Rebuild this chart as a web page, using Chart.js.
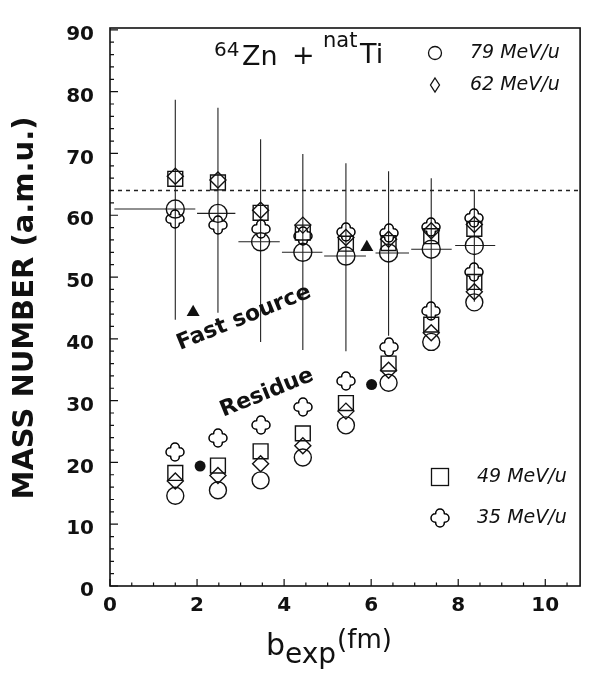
<!DOCTYPE html>
<html>
<head>
<meta charset="utf-8">
<script src="https://cdn.jsdelivr.net/npm/chart.js@4.4.1/dist/chart.umd.min.js"></script>
<style>
  html, body { margin: 0; padding: 0; background: #fff; }
</style>
</head>
<body>
<canvas id="massChart" width="592" height="674"></canvas>
<script>
// impact parameter bins (fm)
const bExp = [1.5, 2.48, 3.46, 4.43, 5.42, 6.4, 7.38, 8.37];
const binLo = [0.1, 2.0, 2.95, 3.95, 4.92, 6.1, 6.92, 7.93];
const binHi = [1.96, 2.88, 3.9, 4.88, 5.88, 6.87, 7.85, 8.85];

// fast source masses
const fast79 = [61.0, 60.3, 55.7, 54.0, 53.4, 53.9, 54.5, 55.1];
const fast79Lo = [43.1, 44.2, 39.5, 38.2, 38.0, 40.5, 43.0, 46.0];
const fast79Hi = [78.7, 77.4, 72.3, 69.9, 68.4, 67.1, 66.0, 64.1];
const fast62 = [66.3, 65.7, 60.8, 58.4, 56.4, 56.1, 57.5, 58.5];
const fast49 = [65.9, 65.3, 60.4, 57.2, 55.4, 55.5, 56.6, 57.8];
const fast35 = [59.4, 58.4, 57.7, 56.6, 57.3, 57.1, 58.1, 59.5];

// residue masses
const res79 = [14.6, 15.5, 17.1, 20.8, 26.0, 32.9, 39.5, 45.9];
const res62 = [17.0, 17.9, 19.8, 22.7, 28.3, 34.9, 41.0, 47.6];
const res49 = [18.3, 19.5, 21.8, 24.7, 29.6, 36.0, 42.3, 49.2];
const res35 = [21.7, 23.9, 26.1, 29.0, 33.1, 38.6, 44.5, 50.8];

// filled symbols
const triB = [1.91, 5.9];
const triA = [44.3, 54.8];
const dotB = [2.07, 6.01];
const dotA = [19.4, 32.6];

const projectileA = 64;
const xTicks = [0, 2, 4, 6, 8, 10];
const yTicks = [0, 10, 20, 30, 40, 50, 60, 70, 80, 90];

const ink = '#111';
const font = 'DejaVu Sans';

function makeCross(size) {
  const c = document.createElement('canvas');
  c.width = c.height = size + 4;
  const g = c.getContext('2d');
  const m = c.width / 2, a = size / 2, w = size * 0.24;
  g.strokeStyle = '#000';
  g.lineWidth = 1.5;
  g.lineJoin = 'round';
  g.beginPath();
  g.moveTo(m - w, m - w);
  g.lineTo(m - w, m - a + w);
  g.arc(m, m - a + w, w, Math.PI, 0);
  g.lineTo(m + w, m - w);
  g.lineTo(m + a - w, m - w);
  g.arc(m + a - w, m, w, -Math.PI / 2, Math.PI / 2);
  g.lineTo(m + w, m + w);
  g.lineTo(m + w, m + a - w);
  g.arc(m, m + a - w, w, 0, Math.PI);
  g.lineTo(m - w, m + w);
  g.lineTo(m - a + w, m + w);
  g.arc(m - a + w, m, w, Math.PI / 2, Math.PI * 1.5);
  g.closePath();
  g.stroke();
  return c;
}
const crossImg = makeCross(18);

const pts = (xs, ys) => xs.map((v, i) => ({ x: v, y: ys[i] }));

function marker(data, style, radius) {
  return {
    type: 'scatter',
    data: data,
    pointStyle: style,
    pointRadius: radius,
    pointBorderWidth: 1.4,
    pointBorderColor: ink,
    pointBackgroundColor: 'rgba(0,0,0,0)',
  };
}

function filled(data, style, radius) {
  return {
    type: 'scatter',
    data: data,
    pointStyle: style,
    pointRadius: radius,
    pointBorderWidth: 0,
    pointBackgroundColor: ink,
  };
}

const extras = {
  id: 'extras',
  beforeDatasetsDraw(chart) {
    const { ctx, scales: { x, y } } = chart;
    ctx.save();
    ctx.strokeStyle = '#222';
    ctx.lineWidth = 1.1;
    bExp.forEach((b, i) => {
      const px = x.getPixelForValue(b);
      const py = y.getPixelForValue(fast79[i]);
      ctx.beginPath();
      ctx.moveTo(px, y.getPixelForValue(fast79Lo[i]));
      ctx.lineTo(px, y.getPixelForValue(fast79Hi[i]));
      ctx.moveTo(x.getPixelForValue(binLo[i]), py);
      ctx.lineTo(x.getPixelForValue(binHi[i]), py);
      ctx.stroke();
    });
    ctx.restore();
    // keep the cross images crisp
    ctx.imageSmoothingEnabled = false;
  },
  afterDatasetsDraw(chart) {
    chart.ctx.imageSmoothingEnabled = true;
  },
  afterDraw(chart) {
    const { ctx, chartArea: ca, scales: { x, y } } = chart;
    ctx.save();
    ctx.strokeStyle = ink;
    ctx.fillStyle = ink;

    // frame
    ctx.lineWidth = 1.6;
    ctx.strokeRect(ca.left, ca.top, ca.right - ca.left, ca.bottom - ca.top);

    // inward ticks
    ctx.lineWidth = 1.2;
    ctx.beginPath();
    for (let v = 0; v <= 90; v += 2) {
      const py = y.getPixelForValue(v);
      ctx.moveTo(ca.left, py);
      ctx.lineTo(ca.left + (v % 10 === 0 ? 8 : 4), py);
    }
    for (let v = 0; v <= 10.5; v += 0.5) {
      const px = x.getPixelForValue(v);
      ctx.moveTo(px, ca.bottom);
      ctx.lineTo(px, ca.bottom - (v % 2 === 0 ? 7 : 3.5));
    }
    ctx.stroke();

    // y axis title
    ctx.save();
    ctx.translate(25, 308);
    ctx.rotate(-Math.PI / 2);
    ctx.font = `bold 29px "${font}"`;
    ctx.textAlign = 'center';
    ctx.textBaseline = 'middle';
    ctx.fillText('MASS NUMBER (a.m.u.)', 0, 0);
    ctx.restore();

    // x axis title b_exp(fm)
    ctx.textAlign = 'left';
    ctx.textBaseline = 'alphabetic';
    let tx = 266;
    ctx.font = `30px "${font}"`;
    ctx.fillText('b', tx, 655);
    tx += ctx.measureText('b').width;
    ctx.font = `28px "${font}"`;
    ctx.fillText('exp', tx, 663);
    tx += ctx.measureText('exp').width + 1;
    ctx.font = `26px "${font}"`;
    ctx.fillText('(fm)', tx, 648);

    // reaction label
    ctx.font = `20px "${font}"`;
    ctx.fillText('64', 214, 56);
    ctx.font = `27px "${font}"`;
    ctx.fillText('Zn', 242, 65);
    ctx.fillText('+', 292, 64);
    ctx.font = `21px "${font}"`;
    ctx.fillText('nat', 323, 47);
    ctx.font = `27px "${font}"`;
    ctx.fillText('Ti', 360, 63);

    // group labels
    ctx.font = `bold 22px "${font}"`;
    ctx.textAlign = 'center';
    ctx.textBaseline = 'middle';
    [['Fast source', 244, 318], ['Residue', 267, 393]].forEach(([t, cx, cy]) => {
      ctx.save();
      ctx.translate(cx, cy);
      ctx.rotate(-22 * Math.PI / 180);
      ctx.fillText(t, 0, 0);
      ctx.restore();
    });

    // legend
    ctx.lineWidth = 1.3;
    ctx.beginPath();
    ctx.arc(435, 53, 6.5, 0, Math.PI * 2);
    ctx.stroke();
    ctx.beginPath();
    ctx.moveTo(435, 78); ctx.lineTo(439.5, 85); ctx.lineTo(435, 92); ctx.lineTo(430.5, 85);
    ctx.closePath();
    ctx.stroke();
    ctx.strokeRect(431.5, 468.5, 17, 17);
    ctx.drawImage(crossImg, 440 - crossImg.width / 2, 518 - crossImg.height / 2);
    ctx.font = `italic 19px "${font}"`;
    ctx.textAlign = 'left';
    ctx.fillText('79 MeV/u', 470, 53);
    ctx.fillText('62 MeV/u', 470, 85);
    ctx.fillText('49 MeV/u', 477, 477);
    ctx.fillText('35 MeV/u', 477, 518);
    ctx.restore();
  }
};

new Chart(document.getElementById('massChart'), {
  type: 'scatter',
  data: {
    datasets: [
      {
        type: 'line',
        data: [{ x: 0, y: projectileA }, { x: 10.8, y: projectileA }],
        borderColor: '#222',
        borderWidth: 1.4,
        borderDash: [4, 4],
        pointRadius: 0,
      },
      marker(pts(bExp, fast79), 'circle', 9),
      marker(pts(bExp, fast62), 'rectRot', 8),
      marker(pts(bExp, fast49), 'rect', 10.5),
      marker(pts(bExp, fast35), crossImg, 9),
      marker(pts(bExp, res79), 'circle', 8.5),
      marker(pts(bExp, res62), 'rectRot', 8),
      marker(pts(bExp, res49), 'rect', 10.5),
      marker(pts(bExp, res35), crossImg, 9),
      filled(pts(triB, triA), 'triangle', 7.5),
      filled(pts(dotB, dotA), 'circle', 5.5),
    ],
  },
  options: {
    responsive: false,
    animation: false,
    devicePixelRatio: 1,
    layout: { padding: { top: 15, right: 3, left: 0, bottom: 0 } },
    scales: {
      x: {
        type: 'linear',
        min: 0,
        max: 10.8,
        afterFit: (s) => { s.height = 88; },
        afterBuildTicks: (s) => { s.ticks = xTicks.map(v => ({ value: v })); },
        grid: { display: false, drawTicks: false },
        border: { display: false },
        ticks: {
          padding: 8,
          color: ink,
          font: { family: font, size: 20, weight: 'bold' },
        },
      },
      y: {
        type: 'linear',
        min: 0,
        max: 90.3,
        afterFit: (s) => { s.width = 110; },
        afterBuildTicks: (s) => { s.ticks = yTicks.map(v => ({ value: v })); },
        grid: { display: false, drawTicks: false },
        border: { display: false },
        ticks: {
          padding: 16,
          labelOffset: 5,
          color: ink,
          font: { family: font, size: 20, weight: 'bold' },
        },
      },
    },
    plugins: {
      legend: { display: false },
      tooltip: { enabled: false },
    },
  },
  plugins: [extras],
});
</script>
</body>
</html>
